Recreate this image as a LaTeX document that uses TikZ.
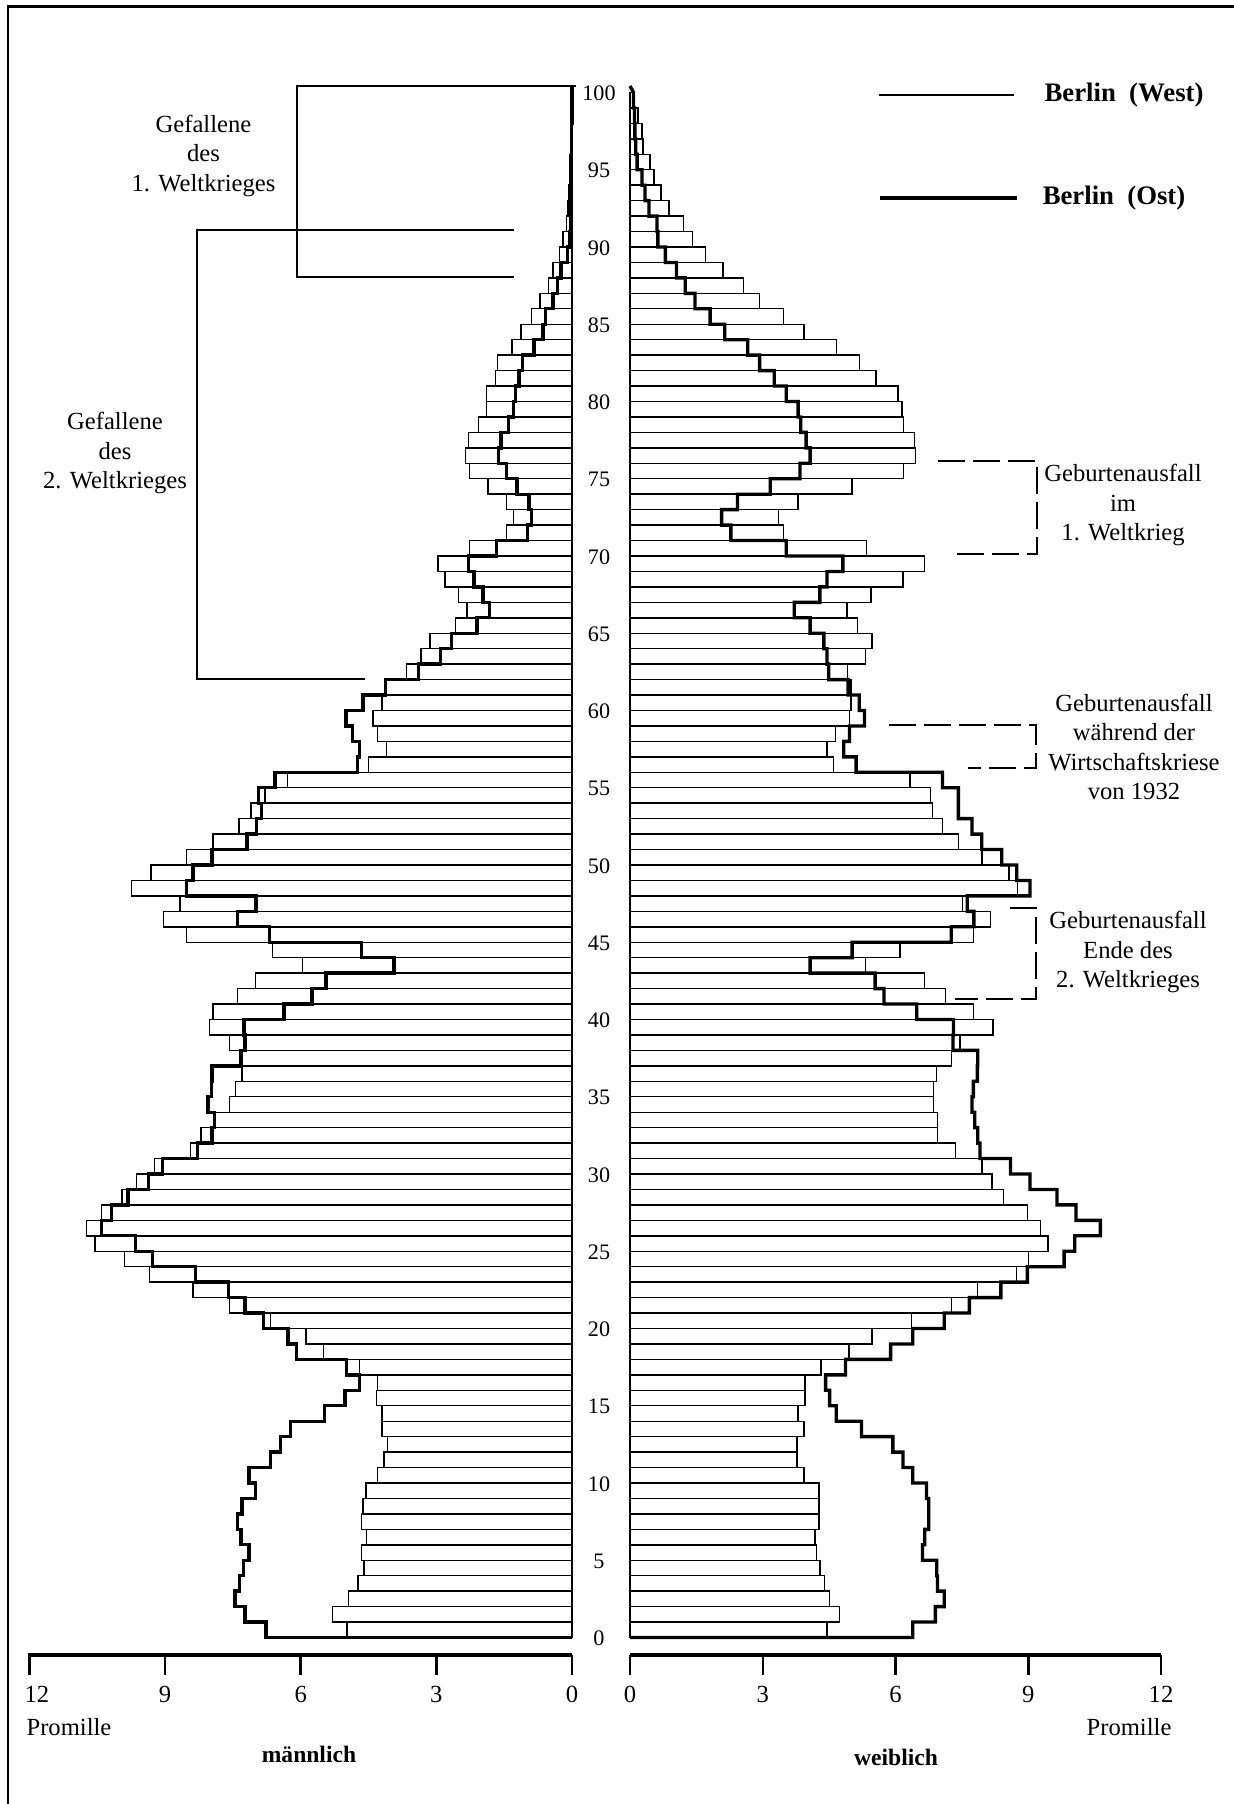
\documentclass[tikz,border=0pt]{standalone}
\usepackage{fontspec}
\setmainfont{Liberation Serif}
\usepackage{tikz}
\usetikzlibrary{positioning, calc}

\tikzset{
  westbar/.style={draw, line width=0.4pt},
  eastline/.style={draw, line width=0.95pt, line join=miter},
  achse/.style={line width=1.15pt},
  strich/.style={line width=0.7pt},
  klammer/.style={line width=0.5pt},
  klammerdash/.style={line width=0.75pt, dash pattern=on 0.27cm off 0.08cm},
  zahl/.style={font=\fontsize{7}{8}\selectfont, inner sep=0pt},
  alter/.style={font=\fontsize{6.3}{7}\selectfont, inner sep=0pt},
  notiz/.style={align=center, font=\fontsize{7}{8.3}\selectfont, inner sep=0pt},
  legende/.style={font=\fontsize{7.6}{9}\selectfont\bfseries, inner sep=0pt},
  geschlecht/.style={font=\fontsize{6.7}{8}\selectfont\bfseries, inner sep=0pt},
}

\newcommand{\maennlichDaten}{0/4.98/6.77, 1/5.29/7.23, 2/4.94/7.45, 3/4.73/7.36, 4/4.60/7.27,
  5/4.65/7.14, 6/4.54/7.32, 7/4.65/7.40, 8/4.62/7.30, 9/4.56/7.00,
  10/4.30/7.14, 11/4.16/6.67, 12/4.08/6.45, 13/4.20/6.23, 14/4.20/5.47,
  15/4.32/5.02, 16/4.30/4.70, 17/4.70/4.98, 18/5.50/6.09, 19/5.88/6.28,
  20/6.67/6.82, 21/7.57/7.23, 22/8.38/7.60, 23/9.34/8.32, 24/9.90/9.28,
  25/10.55/9.66, 26/10.73/10.41, 27/10.41/10.19, 28/9.95/9.82, 29/9.63/9.37,
  30/9.23/9.06, 31/8.44/8.28, 32/8.20/7.96, 33/7.90/7.90, 34/7.57/8.05,
  35/7.44/7.97, 36/7.30/7.96, 37/7.30/7.33, 38/7.57/7.23, 39/8.02/7.25,
  40/7.94/6.37, 41/7.40/5.75, 42/7.00/5.44, 43/5.96/3.94, 44/6.62/4.66,
  45/8.52/6.69, 46/9.03/7.40, 47/8.67/6.99, 48/9.74/8.52, 49/9.31/8.38,
  50/8.52/7.96, 51/7.94/7.19, 52/7.36/6.98, 53/7.10/6.87, 54/6.79/6.94,
  55/6.29/6.57, 56/4.50/4.74, 57/4.10/4.70, 58/4.30/4.86, 59/4.40/5.00,
  60/4.20/4.62, 61/4.10/4.12, 62/3.66/3.39, 63/3.34/2.91, 64/3.14/2.67,
  65/2.57/2.10, 66/2.32/1.83, 67/2.51/1.97, 68/2.81/2.17, 69/2.96/2.29,
  70/2.27/1.67, 71/1.45/0.98, 72/1.30/0.90, 73/1.45/0.95, 74/1.86/1.22,
  75/2.27/1.45, 76/2.35/1.62, 77/2.29/1.57, 78/2.07/1.41, 79/1.89/1.30,
  80/1.89/1.25, 81/1.69/1.17, 82/1.65/1.09, 83/1.33/0.84, 84/1.13/0.64,
  85/0.90/0.58, 86/0.71/0.42, 87/0.52/0.32, 88/0.42/0.24, 89/0.28/0.10,
  90/0.20/0.06, 91/0.12/0.04, 92/0.09/0.03, 93/0.07/0.02, 94/0.05/0.02,
  95/0.04/0.01, 96/0.03/0.01, 97/0.02/0.01, 98/0.02/0, 99/0.01/0}

\newcommand{\weiblichDaten}{0/4.45/6.39, 1/4.74/6.90, 2/4.51/7.10, 3/4.40/6.95, 4/4.29/6.93,
  5/4.22/6.61, 6/4.18/6.66, 7/4.27/6.75, 8/4.27/6.75, 9/4.27/6.70,
  10/3.93/6.39, 11/3.77/6.17, 12/3.77/5.94, 13/3.93/5.23, 14/3.80/4.66,
  15/3.95/4.51, 16/3.95/4.42, 17/4.32/4.87, 18/4.95/5.89, 19/5.47/6.39,
  20/6.36/7.10, 21/7.26/7.67, 22/7.85/8.38, 23/8.74/8.98, 24/9.00/9.81,
  25/9.45/10.05, 26/9.28/10.63, 27/8.98/10.08, 28/8.44/9.65, 29/8.18/9.04,
  30/7.95/8.60, 31/7.35/7.91, 32/6.95/7.86, 33/6.95/7.79, 34/6.86/7.73,
  35/6.86/7.76, 36/6.93/7.85, 37/7.26/7.86, 38/7.46/7.30, 39/8.20/7.31,
  40/7.76/6.48, 41/7.13/5.74, 42/6.66/5.54, 43/5.32/4.07, 44/6.10/5.02,
  45/7.76/7.26, 46/8.15/7.77, 47/7.52/7.62, 48/8.76/9.04, 49/8.56/8.74,
  50/7.95/8.40, 51/7.42/7.95, 52/7.06/7.73, 53/6.84/7.42, 54/6.79/7.42,
  55/6.33/7.06, 56/4.60/5.11, 57/4.45/4.83, 58/4.65/4.96, 59/4.96/5.30,
  60/4.99/5.18, 61/4.99/4.93, 62/4.92/4.49, 63/5.32/4.45, 64/5.47/4.38,
  65/5.14/4.07, 66/4.90/3.71, 67/5.45/4.29, 68/6.17/4.45, 69/6.66/4.81,
  70/5.34/3.53, 71/3.47/2.28, 72/3.35/2.07, 73/3.80/2.43, 74/5.02/3.17,
  75/6.18/3.84, 76/6.45/4.07, 77/6.43/3.98, 78/6.18/3.86, 79/6.15/3.80,
  80/6.06/3.53, 81/5.56/3.26, 82/5.18/2.93, 83/4.66/2.66, 84/3.93/2.14,
  85/3.47/1.81, 86/2.93/1.47, 87/2.57/1.25, 88/2.10/1.05, 89/1.70/0.80,
  90/1.41/0.63, 91/1.21/0.61, 92/0.88/0.43, 93/0.70/0.34, 94/0.54/0.27,
  95/0.45/0.16, 96/0.29/0.13, 97/0.27/0.11, 98/0.18/0.10, 99/0.10/0.08}

\begin{document}
\begin{tikzpicture}[x=0.01cm, y=-0.01cm]
\useasboundingbox (0,0) rectangle (1234,1804);

\draw[line width=0.8pt] (8,1804) -- (8,6.5) -- (1234,6.5);

\foreach \a/\w/\e in \maennlichDaten
  \draw[westbar] ({572-45.22*\w},{1637.5-15.45*\a}) rectangle (572,{1637.5-15.45*(\a+1)});
\foreach \a/\w/\e in \weiblichDaten
  \draw[westbar] (630,{1637.5-15.45*\a}) rectangle ({630+44.25*\w},{1637.5-15.45*(\a+1)});

\draw[eastline] (572,1637.5) \foreach \a/\w/\e in \maennlichDaten {
  -- ({572-45.22*\e},{1637.5-15.45*\a}) -- ({572-45.22*\e},{1637.5-15.45*(\a+1)}) } -- (572,86);
\draw[eastline] (630,1637.5) \foreach \a/\w/\e in \weiblichDaten {
  -- ({630+44.25*\e},{1637.5-15.45*\a}) -- ({630+44.25*\e},{1637.5-15.45*(\a+1)}) } -- (630,86);

\foreach \a in {0,5,...,100}
  \node[alter] (Alter\a) at (599,{1638.5-15.45*\a}) {\a};

\draw[achse] (28,1655) -- (572,1655);
\draw[achse, line width=1.3pt] (630,1655) -- (1161,1655);
\foreach \t in {0,3,6,9,12} {
  \draw[strich] ({572-45.22*\t},1655) -- ({572-45.22*\t},1675);
  \draw[strich] ({630+44.25*\t},1655) -- ({630+44.25*\t},1675);
  \node[zahl] (TickW\t) at ({630+44.25*\t},1694) {\t};
}
\foreach \t in {0,3,6,9}
  \node[zahl] (TickM\t) at ({572-45.22*\t},1694) {\t};
\node[zahl] (TickM12) at (37,1694) {12};

\node[zahl] (PromilleM) at (69,1727) {Promille};
\node[zahl] (PromilleW) at (1129,1727) {Promille};
\node[geschlecht] (Maennlich) at (309,1754) {männlich};
\node[geschlecht] (Weiblich) at (896,1757) {weiblich};

\coordinate (LegWestA) at (879,95);
\coordinate (LegWestB) at (1014,95);
\coordinate (LegOstA) at (880,198);
\coordinate (LegOstB) at (1017,198);
\draw[line width=0.4pt] (LegWestA) -- (LegWestB);
\draw[line width=1.35pt] (LegOstA) -- (LegOstB);
\node[legende] (BerlinWest) at (1124,95) {Berlin\enspace(West)};
\node[legende] (BerlinOst) at (1114,198) {Berlin\enspace(Ost)};

\node[notiz] (GefallenEins) at (203.5,156) {Gefallene\\des\\1. Weltkrieges};
\node[notiz] (GefallenZwei) at (115,453) {Gefallene\\des\\2. Weltkrieges};
\draw[klammer] (576,86) -- (297,86) -- (297,277) -- (514,277);
\draw[klammer] (514,230) -- (197,230) -- (197,679) -- (365,679);

\node[notiz] (AusfallEins) at (1123,505) {Geburtenausfall\\im\\1. Weltkrieg};
\node[notiz] (AusfallKrise) at (1134,747) {Geburtenausfall\\während der\\Wirtschaftskriese\\von 1932};
\node[notiz] (AusfallZwei) at (1128,952) {Geburtenausfall\\Ende des\\2. Weltkrieges};
\draw[klammerdash] (938,461) -- (1037,461) -- (1037,554) -- (955,554);
\draw[klammerdash] (889,725) -- (1036,725) -- (1036,768) -- (968,768);
\draw[klammerdash] (1010,908) -- (1036,908) -- (1036,999) -- (955,999);
\end{tikzpicture}
\end{document}
